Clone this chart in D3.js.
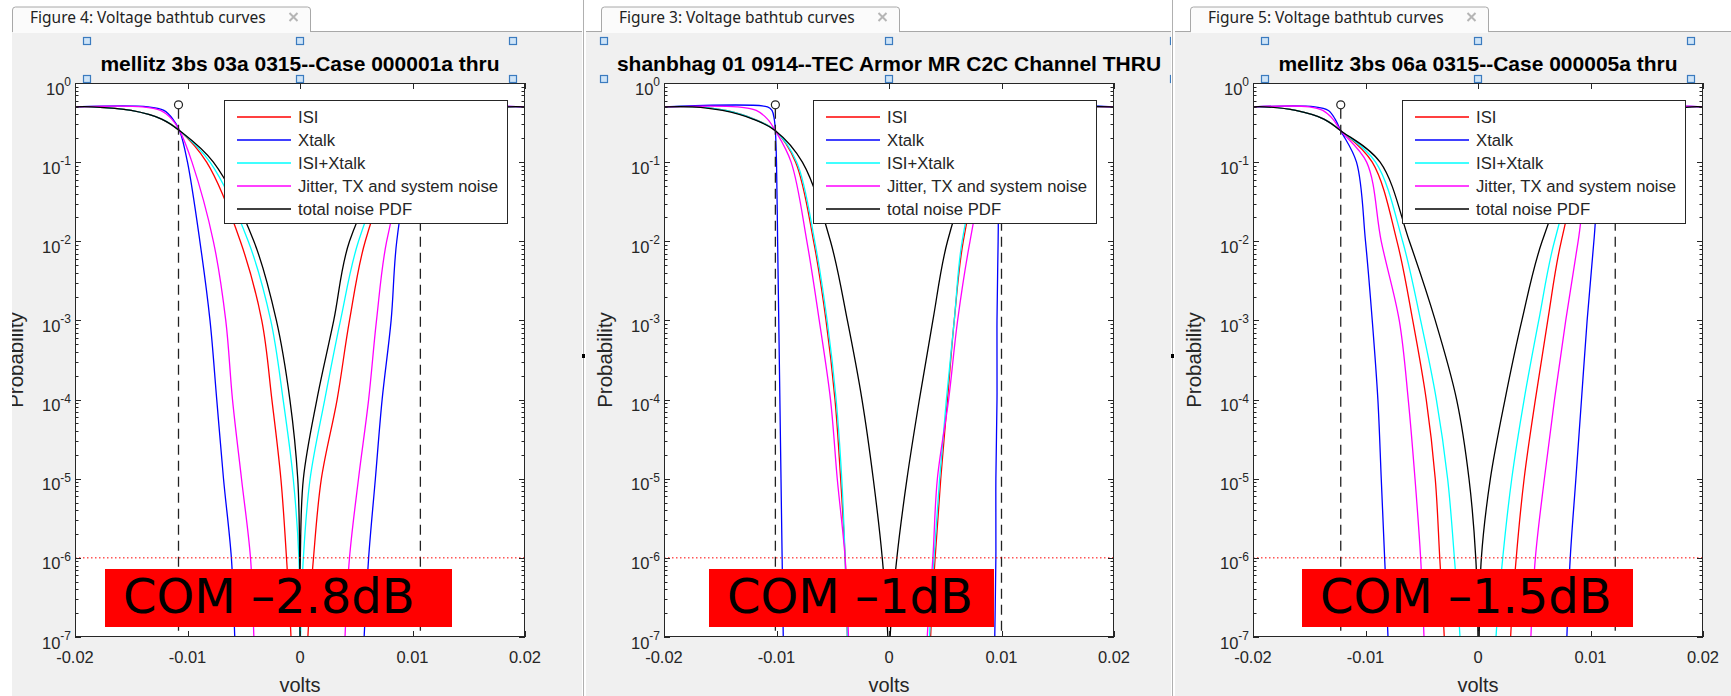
<!DOCTYPE html>
<html>
<head>
<meta charset="utf-8">
<script src="https://cdn.jsdelivr.net/npm/d3@7"></script>
<style>
  body { margin: 0; background: #fff; }
  text { font-family: "Liberation Sans", Arial, sans-serif; }
</style>
</head>
<body>
<svg id="chart"></svg>
<script>
// ---- data ----

// probability levels at which each branch was read (top of the tub down to below the axis)
const probLevels = [0.5, 0.45, 0.35, 0.25, 1e-1, 1e-2, 1e-3, 1e-4, 1e-5, 1e-6, 1e-7, 1e-8]

const seriesNames = ['ISI', 'Xtalk', 'ISI+Xtalk', 'Jitter, TX and system noise', 'total noise PDF']
const seriesColors = ['#ff0000', '#0000ff', '#00ffff', '#ff00ff', '#000000']

const xTicks = [-0.02, -0.01, 0, 0.01, 0.02]
const xTickLabels = ['-0.02', '-0.01', '0', '0.01', '0.02']
const yExponents = [0, -1, -2, -3, -4, -5, -6, -7]

const tabTitles = ['Figure 4: Voltage bathtub curves', 'Figure 3: Voltage bathtub curves', 'Figure 5: Voltage bathtub curves']
const plotTitles = ['mellitz 3bs 03a 0315--Case 000001a thru', 'shanbhag 01 0914--TEC Armor MR C2C Channel THRU', 'mellitz 3bs 06a 0315--Case 000005a thru']
const comLabels = ['COM –2.8dB', 'COM –1dB', 'COM –1.5dB']

// volts of the dashed eye-opening markers (left, right)
const markerVolts = [[-0.0108, 0.0107], [-0.0101, 0.0100], [-0.0122, 0.0122]]
const markerProb = 0.53
const berTarget = 1e-6

// left branch x (volts) per series, one value per probLevels entry
const fig4Left = [
    [-0.0185, -0.0150, -0.0123, -0.0107, -0.0083, -0.0053, -0.0034, -0.0025, -0.0017, -0.0012, -0.0008, -0.0006],
    [-0.0135, -0.0121, -0.0113, -0.0107, -0.0100, -0.0089, -0.0080, -0.0074, -0.0068, -0.0061, -0.0058, -0.0056],
    [-0.0185, -0.0150, -0.0123, -0.0107, -0.0080, -0.0046, -0.0026, -0.0015, -0.0006, -0.0001, -0.00002, 0],
    [-0.0140, -0.0124, -0.0114, -0.0107, -0.0096, -0.0077, -0.0066, -0.0060, -0.0052, -0.0044, -0.0041, -0.0039],
    [-0.0185, -0.0150, -0.0123, -0.0107, -0.0077, -0.0041, -0.0021, -0.0009, -0.0002, -0.00003, 0, 0]
]
const fig4Right = [
    [0.0185, 0.0150, 0.0123, 0.0107, 0.0085, 0.0058, 0.0044, 0.0033, 0.0019, 0.0012, 0.0007, 0.0005],
    [0.0135, 0.0121, 0.0113, 0.0107, 0.0098, 0.0086, 0.0081, 0.0073, 0.0067, 0.0061, 0.0057, 0.0055],
    [0.0185, 0.0150, 0.0123, 0.0107, 0.0082, 0.0052, 0.0036, 0.0022, 0.0009, 0.0003, 0.00005, 0],
    [0.0140, 0.0124, 0.0114, 0.0107, 0.0096, 0.0077, 0.0068, 0.0061, 0.0052, 0.0044, 0.0040, 0.0038],
    [0.0185, 0.0150, 0.0123, 0.0107, 0.0079, 0.0044, 0.0030, 0.0015, 0.0003, 0.00003, 0, 0]
]
const fig3Left = [
    [-0.0170, -0.0145, -0.0120, -0.0101, -0.0083, -0.0067, -0.0056, -0.0048, -0.0043, -0.0039, -0.0037, -0.0035],
    [-0.0108, -0.0104, -0.0102, -0.0101, -0.0100, -0.0099, -0.0098, -0.0097, -0.0096, -0.0095, -0.0094, -0.0093],
    [-0.0170, -0.0145, -0.0120, -0.0101, -0.0082, -0.0066, -0.0055, -0.0047, -0.0042, -0.0039, -0.0037, -0.0035],
    [-0.0135, -0.0118, -0.0108, -0.0101, -0.0087, -0.0073, -0.0062, -0.0052, -0.0046, -0.0039, -0.0036, -0.0034],
    [-0.0175, -0.0148, -0.0121, -0.0101, -0.0077, -0.0052, -0.0037, -0.0024, -0.0014, -0.0006, -0.0001, 0]
]
const fig3Right = [
    [0.0170, 0.0145, 0.0120, 0.0100, 0.0083, 0.0066, 0.0058, 0.0052, 0.0046, 0.0041, 0.0037, 0.0035],
    [0.0105, 0.0103, 0.0102, 0.0100, 0.0098, 0.0097, 0.0096, 0.0096, 0.0095, 0.0095, 0.0094, 0.0093],
    [0.0170, 0.0145, 0.0120, 0.0100, 0.0082, 0.0065, 0.0058, 0.0051, 0.0045, 0.0040, 0.0036, 0.0034],
    [0.0135, 0.0118, 0.0108, 0.0100, 0.0087, 0.0072, 0.0061, 0.0053, 0.0043, 0.0039, 0.0034, 0.0032],
    [0.0175, 0.0148, 0.0121, 0.0100, 0.0077, 0.0052, 0.0039, 0.0027, 0.0016, 0.0007, 0.0001, 0]
]
const fig5Left = [
    [-0.0190, -0.0162, -0.0137, -0.0122, -0.0094, -0.0072, -0.0058, -0.0046, -0.0038, -0.0034, -0.0030, -0.0028],
    [-0.0145, -0.0133, -0.0127, -0.0122, -0.0108, -0.0100, -0.0094, -0.0089, -0.0086, -0.0083, -0.0080, -0.0078],
    [-0.0190, -0.0162, -0.0137, -0.0122, -0.0091, -0.0067, -0.0051, -0.0037, -0.0027, -0.0021, -0.0016, -0.0013],
    [-0.0150, -0.0138, -0.0129, -0.0122, -0.0099, -0.0086, -0.0070, -0.0062, -0.0056, -0.0051, -0.0048, -0.0046],
    [-0.0190, -0.0162, -0.0137, -0.0122, -0.0087, -0.0061, -0.0038, -0.0019, -0.0008, -0.0002, 0, 0]
]
const fig5Right = [
    [0.0190, 0.0162, 0.0137, 0.0122, 0.0095, 0.0074, 0.0062, 0.0051, 0.0041, 0.0034, 0.0029, 0.0027],
    [0.0145, 0.0133, 0.0127, 0.0122, 0.0110, 0.0103, 0.0097, 0.0092, 0.0087, 0.0082, 0.0079, 0.0077],
    [0.0190, 0.0162, 0.0137, 0.0122, 0.0092, 0.0068, 0.0054, 0.0041, 0.0030, 0.0022, 0.0016, 0.0013],
    [0.0150, 0.0138, 0.0129, 0.0122, 0.0101, 0.0089, 0.0078, 0.0068, 0.0059, 0.0051, 0.0047, 0.0045],
    [0.0190, 0.0162, 0.0137, 0.0122, 0.0088, 0.0057, 0.0039, 0.0024, 0.0011, 0.0003, 0.0001, 0]
]

const leftBranches = [fig4Left, fig3Left, fig5Left]
const rightBranches = [fig4Right, fig3Right, fig5Right]

// ---- layout ----
const W = 1731, H = 696
const panelLefts = [12, 586, 1175]
const panelRights = [582, 1171, 1731]
const axisLefts = [75, 664, 1253]
const axisW = 450
const axisTop = 83, axisBottom = 637
const comBoxX = [105, 709, 1302]
const comBoxW = [347, 285, 331]
const axisColor = '#262626'

const svg = d3.select('#chart').attr('width', W).attr('height', H)
svg.append('rect').attr('width', W).attr('height', H).attr('fill', '#fff')

const defs = svg.append('defs')

// build the closed bathtub path for one series: flat at 0.5, down the left branch, up the right
const tubPoints = (left, right) => {
    const pts = [[-0.02, 0.5]]
    left.forEach((x, k) => pts.push([x, probLevels[k]]))
    for (let k = right.length - 1; k >= 0; k--) pts.push([right[k], probLevels[k]])
    pts.push([0.02, 0.5])
    return pts
}

const drawPanel = (i) => {
    const pL = panelLefts[i], pR = panelRights[i]
    const aL = axisLefts[i], aR = aL + axisW
    const aC = (aL + aR) / 2

    const g = svg.append('g')

    // panel clip (the y label of the first panel is cut by the window edge)
    defs.append('clipPath').attr('id', `panelClip${i}`)
        .append('rect').attr('x', pL).attr('y', 0).attr('width', pR - pL).attr('height', H)
    defs.append('clipPath').attr('id', `axisClip${i}`)
        .append('rect').attr('x', aL).attr('y', axisTop).attr('width', axisW).attr('height', axisBottom - axisTop)

    const pg = g.append('g').attr('clip-path', `url(#panelClip${i})`)

    // background + tab strip
    pg.append('rect').attr('x', pL).attr('y', 31.5).attr('width', pR - pL).attr('height', H - 31.5).attr('fill', '#f0f0f0')
    pg.append('line').attr('x1', pL).attr('x2', pR).attr('y1', 31.5).attr('y2', 31.5).attr('stroke', '#a8a8a8')

    const tL = aL - 63 + 0.5, tR = aL + 235 + 0.5
    pg.append('path')
        .attr('d', `M${tL},32 V10 Q${tL},7 ${tL + 3},7 H${tR - 3} Q${tR},7 ${tR},10 V32`)
        .attr('fill', '#fbfbfb').attr('stroke', '#a8a8a8')
    pg.append('rect').attr('x', tL + 0.5).attr('y', 30).attr('width', tR - tL - 1).attr('height', 3).attr('fill', '#fbfbfb')
    pg.append('text').attr('x', tL + 17.5).attr('y', 22.5)
        .style('font-family', '"Noto Sans", "Open Sans", sans-serif').style('font-size', '15.5px')
        .attr('fill', '#222').text(tabTitles[i])
    const cx = tL + 281, cy = 17
    pg.append('path').attr('d', `M${cx - 4},${cy - 4} L${cx + 4},${cy + 4} M${cx + 4},${cy - 4} L${cx - 4},${cy + 4}`)
        .attr('stroke', '#b5b5b5').attr('stroke-width', 2)

    // scales
    const x = d3.scaleLinear().domain([-0.02, 0.02]).range([aL, aR])
    const y = d3.scaleLog().domain([1e-7, 1]).range([axisBottom, axisTop])

    // axes area
    pg.append('rect').attr('x', aL).attr('y', axisTop).attr('width', axisW).attr('height', axisBottom - axisTop).attr('fill', '#fff')

    const plot = pg.append('g').attr('clip-path', `url(#axisClip${i})`)

    const line = d3.line()
        .x(d => x(d[0]))
        .y(d => y(d[1]))
        .curve(d3.curveCatmullRom.alpha(0.5))

    seriesNames.forEach((name, s) => {
        plot.append('path')
            .datum(tubPoints(leftBranches[i][s], rightBranches[i][s]))
            .attr('fill', 'none')
            .attr('stroke', seriesColors[s])
            .attr('stroke-width', 1.3)
            .attr('d', line)
    })

    // eye-opening markers
    markerVolts[i].forEach(v => {
        plot.append('line')
            .attr('x1', x(v)).attr('x2', x(v))
            .attr('y1', y(markerProb) + 4).attr('y2', axisBottom)
            .attr('stroke', '#222').attr('stroke-width', 1.3).attr('stroke-dasharray', '10,6')
        plot.append('circle')
            .attr('cx', x(v)).attr('cy', y(markerProb)).attr('r', 4)
            .attr('fill', 'none').attr('stroke', '#222').attr('stroke-width', 1.2)
    })

    // target BER line
    plot.append('line')
        .attr('x1', aL).attr('x2', aR).attr('y1', y(berTarget)).attr('y2', y(berTarget))
        .attr('stroke', '#ff0000').attr('stroke-width', 1).attr('stroke-dasharray', '1.5,2.5')

    // ticks
    const ax = pg.append('g').attr('stroke', axisColor).attr('stroke-width', 1)
    xTicks.forEach(t => {
        const px = Math.round(x(t)) + 0.5
        ax.append('line').attr('x1', px).attr('x2', px).attr('y1', axisBottom).attr('y2', axisBottom - 6)
        ax.append('line').attr('x1', px).attr('x2', px).attr('y1', axisTop).attr('y2', axisTop + 6)
    })
    yExponents.forEach(e => {
        const py = Math.round(y(Math.pow(10, e))) + 0.5
        ax.append('line').attr('x1', aL).attr('x2', aL + 6).attr('y1', py).attr('y2', py)
        ax.append('line').attr('x1', aR).attr('x2', aR - 6).attr('y1', py).attr('y2', py)
        if (e > -7) {
            for (let m = 2; m <= 9; m++) {
                const my = Math.round(y(m * Math.pow(10, e - 1))) + 0.5
                ax.append('line').attr('x1', aL).attr('x2', aL + 3.5).attr('y1', my).attr('y2', my)
                ax.append('line').attr('x1', aR).attr('x2', aR - 3.5).attr('y1', my).attr('y2', my)
            }
        }
    })
    pg.append('rect').attr('x', aL + 0.5).attr('y', axisTop + 0.5).attr('width', axisW - 1).attr('height', axisBottom - axisTop - 1)
        .attr('fill', 'none').attr('stroke', axisColor)

    // tick labels
    xTicks.forEach((t, k) => {
        pg.append('text').attr('x', x(t)).attr('y', axisBottom + 26)
            .attr('text-anchor', 'middle').style('font-size', '16.5px').attr('fill', axisColor)
            .text(xTickLabels[k])
    })
    yExponents.forEach(e => {
        const py = y(Math.pow(10, e))
        const tx = pg.append('text').attr('x', aL - 4).attr('y', py + 11.5)
            .attr('text-anchor', 'end').style('font-size', '16.5px').attr('fill', axisColor)
        tx.append('tspan').text('10')
        tx.append('tspan').attr('dy', -8.5).style('font-size', '12px').text(e)
    })

    // axis labels
    pg.append('text').attr('x', aC).attr('y', 692).attr('text-anchor', 'middle')
        .style('font-size', '20px').attr('fill', axisColor).text('volts')
    pg.append('text')
        .attr('transform', `translate(${aL - 52},${360}) rotate(-90)`)
        .attr('text-anchor', 'middle').style('font-size', '20.5px').attr('fill', axisColor)
        .text('Probability')

    // title with selection handles
    const title = pg.append('text').attr('x', aC).attr('y', 71).attr('text-anchor', 'middle')
        .style('font-size', '21px').style('font-weight', 'bold').attr('fill', '#000')
        .text(plotTitles[i])
    const bb = title.node().getBBox()
    const hx = [bb.x - 13, aC, bb.x + bb.width + 13]
    ;[41, 79].forEach(hy => {
        hx.forEach(h => {
            pg.append('rect').attr('x', Math.round(h) - 3.5).attr('y', hy - 3.5).attr('width', 7).attr('height', 7)
                .attr('fill', '#cfe4f7').attr('stroke', '#3b7bbf').attr('stroke-width', 1.2)
        })
    })

    // legend
    const lgX = aL + 149, lgY = axisTop + 17
    const lg = pg.append('g')
    lg.append('rect').attr('x', lgX + 0.5).attr('y', lgY + 0.5).attr('width', 283).attr('height', 123)
        .attr('fill', '#fff').attr('stroke', axisColor)
    seriesNames.forEach((name, s) => {
        const ry = lgY + 17 + s * 23
        lg.append('line').attr('x1', lgX + 13).attr('x2', lgX + 67).attr('y1', ry).attr('y2', ry)
            .attr('stroke', seriesColors[s]).attr('stroke-width', 1.3)
        lg.append('text').attr('x', lgX + 74).attr('y', ry + 6)
            .style('font-size', '16.7px').attr('fill', axisColor).text(name)
    })

    // COM annotation
    pg.append('rect').attr('x', comBoxX[i]).attr('y', 569).attr('width', comBoxW[i]).attr('height', 58).attr('fill', '#ff0000')
    pg.append('text').attr('x', comBoxX[i] + 18).attr('y', 613)
        .style('font-family', '"DejaVu Sans", sans-serif').style('font-size', '48px').attr('fill', '#000')
        .text(comLabels[i])
}

[0, 1, 2].forEach(drawPanel)

// separators between the docked figure windows
;[583.5, 1172.5].forEach(sx => {
    svg.append('line').attr('x1', sx).attr('x2', sx).attr('y1', 0).attr('y2', H).attr('stroke', '#b0b0b0')
    svg.append('rect').attr('x', sx - 1.5).attr('y', 354).attr('width', 3).attr('height', 4).attr('fill', '#000')
})
</script>
</body>
</html>
